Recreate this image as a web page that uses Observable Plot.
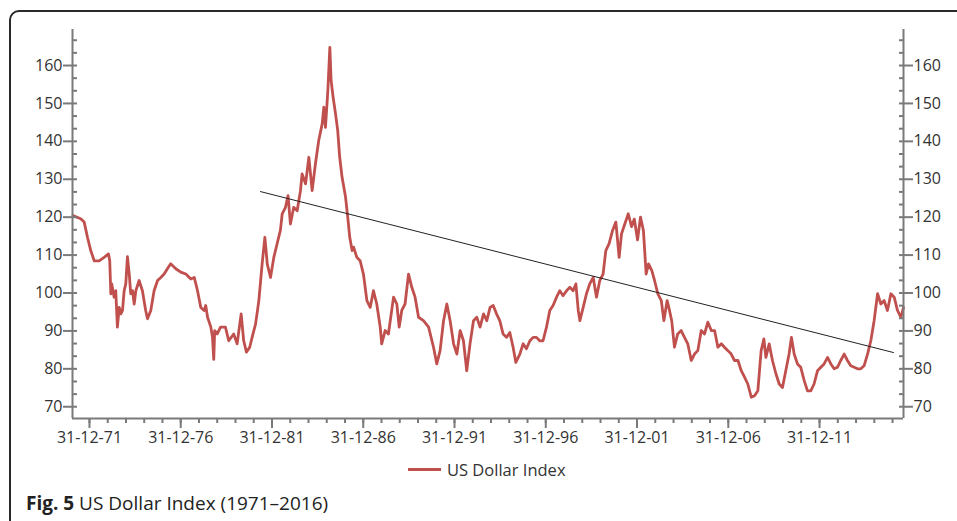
<!DOCTYPE html>
<html>
<head>
<meta charset="utf-8">
<script src="https://cdn.jsdelivr.net/npm/d3@7"></script>
<script src="https://cdn.jsdelivr.net/npm/@observablehq/plot@0.6"></script>
<style>
  html, body { margin: 0; padding: 0; background: #fff; overflow: hidden; width: 957px; height: 521px; }
  body { font-family: "Open Sans", "DejaVu Sans", sans-serif; color: #333; position: relative; }
  #frame { position: absolute; left: 9px; top: 10px; width: 1000px; height: 600px; border: 2px solid #2a2a2a; border-radius: 10px; box-sizing: border-box; }
  #chart { position: absolute; left: 0; top: 0; }
  #legend { position: absolute; left: 408px; top: 458px; height: 22px; display: flex; align-items: center; font-size: 16.5px; color: #333; }
  #legend .sw { width: 33px; height: 0; border-top: 3px solid #c0504d; margin-right: 6px; }
  #caption { position: absolute; left: 26px; top: 491px; font-size: 19px; line-height: 24px; color: #222; white-space: nowrap; }
</style>
</head>
<body>
<div id="frame"></div>
<div id="chart"></div>
<div id="legend"><span class="sw"></span><span>US Dollar Index</span></div>
<div id="caption"><b>Fig. 5</b> US Dollar Index (1971–2016)</div>
<script>
// decimal year (31-12-71 = 1972.0) and index value
const years = [
  1971.10,1971.52,1971.71,1971.89,1972.07,1972.26,1972.53,1972.80,1973.04,1973.11,
  1973.17,1973.22,1973.35,1973.44,1973.53,1973.63,1973.72,1973.81,1973.90,1973.99,
  1974.08,1974.18,1974.26,1974.36,1974.45,1974.54,1974.72,1974.90,1975.08,1975.18,
  1975.36,1975.54,1975.73,1975.91,1976.09,1976.27,1976.45,1976.73,1977.00,1977.28,
  1977.55,1977.74,1977.92,1978.10,1978.28,1978.37,1978.47,1978.65,1978.74,1978.81,
  1978.86,1979.00,1979.18,1979.45,1979.63,1979.90,1980.09,1980.31,1980.45,1980.60,
  1980.78,1980.91,1981.10,1981.28,1981.46,1981.61,1981.74,1981.92,1982.10,1982.28,
  1982.46,1982.56,1982.74,1982.88,1983.01,1983.19,1983.38,1983.56,1983.65,1983.84,
  1984.02,1984.20,1984.38,1984.56,1984.75,1984.84,1984.93,1985.06,1985.17,1985.24,
  1985.35,1985.48,1985.60,1985.71,1985.84,1986.03,1986.15,1986.26,1986.39,1986.47,
  1986.65,1986.83,1987.01,1987.20,1987.38,1987.56,1987.74,1987.93,1988.01,1988.20,
  1988.38,1988.66,1988.84,1988.97,1989.11,1989.29,1989.48,1989.66,1989.84,1990.03,
  1990.30,1990.58,1990.85,1991.03,1991.21,1991.40,1991.58,1991.76,1991.95,1992.13,
  1992.31,1992.49,1992.67,1992.85,1993.04,1993.22,1993.40,1993.59,1993.77,1993.95,
  1994.12,1994.30,1994.48,1994.66,1994.85,1995.03,1995.21,1995.36,1995.58,1995.76,
  1995.94,1996.13,1996.31,1996.49,1996.67,1996.85,1997.04,1997.22,1997.40,1997.59,
  1997.77,1997.95,1998.14,1998.32,1998.50,1998.65,1998.78,1998.87,1999.05,1999.23,
  1999.41,1999.60,1999.78,1999.96,2000.14,2000.29,2000.47,2000.66,2000.84,2001.02,
  2001.15,2001.33,2001.52,2001.70,2001.85,2002.03,2002.19,2002.35,2002.50,2002.63,
  2002.81,2002.96,2003.14,2003.33,2003.47,2003.65,2003.78,2003.90,2004.05,2004.23,
  2004.42,2004.60,2004.78,2004.97,2005.15,2005.33,2005.52,2005.70,2005.88,2006.07,
  2006.25,2006.43,2006.62,2006.79,2006.98,2007.16,2007.34,2007.53,2007.71,2007.89,
  2008.07,2008.26,2008.44,2008.62,2008.80,2008.95,2009.06,2009.24,2009.42,2009.61,
  2009.79,2009.97,2010.15,2010.33,2010.46,2010.61,2010.79,2010.97,2011.16,2011.34,
  2011.52,2011.70,2011.89,2012.07,2012.25,2012.44,2012.62,2012.80,2012.98,2013.16,
  2013.35,2013.53,2013.71,2013.90,2014.08,2014.26,2014.44,2014.63,2014.81,2014.99,
  2015.18,2015.36,2015.54,2015.72,2015.91,2016.09,2016.27,2016.46,2016.60
];
const dollarIndex = [
  120.4,119.6,118.7,114.7,111.2,108.5,108.5,109.4,110.3,108.5,
  99.8,102.4,98.9,100.6,91.0,96.2,94.5,95.4,100.6,102.4,
  109.6,105.0,99.8,100.6,97.1,100.6,103.3,100.6,95.4,93.2,
  95.4,100.6,103.3,104.1,105.0,106.4,107.7,106.4,105.5,105.0,
  103.7,104.1,100.6,96.2,95.4,96.7,93.6,91.0,88.3,82.5,
  90.1,89.2,91.0,91.0,87.4,89.2,86.6,94.5,87.4,84.4,
  85.7,88.3,91.8,98.0,107.7,114.7,107.7,104.1,109.4,113.0,
  116.5,120.9,122.6,125.7,118.2,122.6,121.7,127.0,131.4,128.8,
  135.8,127.0,134.1,140.2,144.6,149.0,143.7,153.4,164.8,156.0,
  151.6,147.3,142.9,135.8,130.5,125.3,120.0,114.7,111.2,112.1,
  109.4,108.5,105.0,98.0,96.2,100.6,97.1,91.0,86.6,90.1,
  89.2,98.9,97.1,91.0,95.4,97.1,105.0,101.5,98.9,93.6,
  92.7,91.0,85.7,81.3,84.8,92.7,97.1,92.7,86.6,83.9,
  90.1,87.4,79.5,86.6,92.7,93.6,91.0,94.5,92.7,96.2,
  96.7,94.5,92.7,89.2,88.3,89.6,85.7,81.7,83.9,86.6,
  85.3,87.4,88.3,88.3,87.4,87.4,91.0,95.4,96.7,98.9,
  100.6,99.3,100.6,101.5,100.6,102.4,95.4,92.7,96.2,99.8,
  102.4,104.1,98.9,103.3,105.0,111.2,113.0,116.5,118.7,109.4,
  115.6,118.2,120.9,117.5,119.5,114.0,120.0,116.5,105.0,107.7,
  105.9,103.3,99.8,98.0,92.7,98.0,95.4,92.7,85.7,89.2,
  90.1,88.3,86.6,82.2,83.9,84.8,90.1,89.2,92.3,90.1,
  90.1,85.7,86.6,85.7,84.8,83.9,82.2,82.2,79.5,77.8,
  76.0,72.5,72.9,74.2,84.8,87.9,83.0,86.6,82.2,78.7,
  76.0,75.1,79.5,83.9,88.3,83.9,81.3,80.4,76.9,74.2,
  74.2,76.0,79.5,80.4,81.3,83.0,81.3,80.0,80.4,82.2,
  83.9,82.2,80.8,80.4,80.0,80.0,80.8,83.9,87.4,92.7,
  99.8,97.1,98.0,95.4,99.8,98.9,95.4,93.6,96.2
];
// trend line end points
const trendYears = [1981.37, 2016.05];
const trendValues = [126.75, 84.3];

// axis ticks
const xMajorTicks = [1972, 1977, 1982, 1987, 1992, 1997, 2002, 2007, 2012];
const xTickLabels = ["31-12-71","31-12-76","31-12-81","31-12-86","31-12-91","31-12-96","31-12-01","31-12-06","31-12-11"];
const xMinorTicks = d3.range(1972, 2017, 1);
const yMajorTicks = [70, 80, 90, 100, 110, 120, 130, 140, 150, 160];
const yMinorTicks = d3.range(0, 31).map(k => 70 + k * 10 / 3).filter(v => v < 169.5);

const xDomain = [1971.07, 2016.6];
const yDomain = [66.9, 169.5];

const data = years.map((t, i) => ({t, v: dollarIndex[i]}));
const trend = trendYears.map((t, i) => ({t, v: trendValues[i]}));
const labelOf = new Map(xMajorTicks.map((d, i) => [d, xTickLabels[i]]));

const axisGray = "#7a7a7a";
const fs = 16;
const chart = Plot.plot({
  width: 957,
  height: 460,
  marginTop: 29,
  marginBottom: 42,
  marginLeft: 72,
  marginRight: 54,
  style: {fontFamily: "'Open Sans', sans-serif", fontSize: "16px", color: "#333", background: "transparent"},
  x: {domain: xDomain, label: null},
  y: {domain: yDomain, label: null},
  marks: [
    Plot.line(data, {x: "t", y: "v", stroke: "#c0504d", strokeWidth: 2.8, strokeLinejoin: "round"}),
    Plot.line(trend, {x: "t", y: "v", stroke: "#222", strokeWidth: 1}),
    // minor ticks
    Plot.axisX(xMinorTicks, {tickSize: 5, tickFormat: () => "", stroke: axisGray, strokeWidth: 2, label: null}),
    Plot.axisY(yMinorTicks, {anchor: "left", tickSize: 5, dx: 5, tickFormat: () => "", stroke: axisGray, strokeWidth: 2, label: null}),
    Plot.axisY(yMinorTicks, {anchor: "right", tickSize: 5, dx: -5, tickFormat: () => "", stroke: axisGray, strokeWidth: 2, label: null}),
    // major ticks
    Plot.axisX(xMajorTicks, {tickSize: 10, tickPadding: 3, tickFormat: d => labelOf.get(d), stroke: axisGray, strokeWidth: 2, fill: "#333", fontSize: fs, label: null}),
    Plot.axisY(yMajorTicks, {anchor: "left", tickSize: 9, tickPadding: 1, stroke: axisGray, strokeWidth: 2, fill: "#333", fontSize: fs, label: null}),
    Plot.axisY(yMajorTicks, {anchor: "right", tickSize: 9, tickPadding: 1, stroke: axisGray, strokeWidth: 2, fill: "#333", fontSize: fs, label: null}),
    // axis lines
    Plot.ruleY([yDomain[0]], {stroke: axisGray, strokeWidth: 2}),
    Plot.ruleX([xDomain[0], xDomain[1]], {stroke: axisGray, strokeWidth: 2})
  ]
});
document.getElementById("chart").appendChild(chart);
</script>
</body>
</html>
